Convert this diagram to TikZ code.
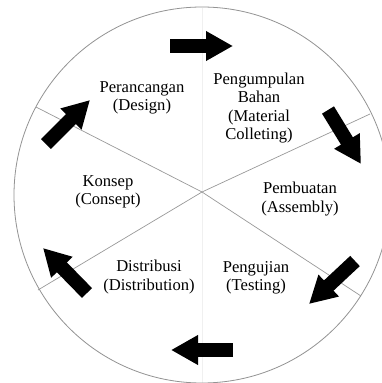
\documentclass[tikz,border=0pt]{standalone}
\usepackage{fontspec}
\setmainfont{Liberation Serif}
\usetikzlibrary{arrows.meta}
\begin{document}
\begin{tikzpicture}[x=1pt,y=-1pt,
  spoke/.style={draw=gray!80, line width=0.7pt},
  rim/.style={draw=gray!85, line width=0.8pt},
  faint/.style={draw=gray!12, line width=0.8pt},
  blockarrow/.style={draw=black, line width=14pt, -{Triangle[width=28pt,length=27pt]}},
  lbl/.style={align=center, font=\fontsize{16.6}{18.5}\selectfont, inner sep=0pt}]
\useasboundingbox (0,0) rectangle (382,383);
\clip (0,0) rectangle (382,383);
\fill[white] (0,0) rectangle (382,383);
% faint vertical line
\coordinate (vt) at (202,8);
\coordinate (vb) at (202,383);
\draw[faint] (vt) -- (vb);
% rim
\coordinate (O) at (202,195);
\draw[rim] (O) circle[radius=188];
% spokes
\coordinate (c) at (202,192);
\coordinate (pul) at (36,107);
\coordinate (pur) at (370,114);
\coordinate (plr) at (361,296);
\coordinate (pll) at (38,290);
\draw[spoke] (pul) -- (c) -- (plr);
\draw[spoke] (pur) -- (c) -- (pll);
% block arrows
\coordinate (a1s) at (170,46);  \coordinate (a1e) at (233,46);
\coordinate (a2s) at (328,110); \coordinate (a2e) at (361,164);
\coordinate (a3s) at (355,261); \coordinate (a3e) at (309,304);
\coordinate (a4s) at (233,350); \coordinate (a4e) at (171,350);
\coordinate (a5s) at (87,293);  \coordinate (a5e) at (43,248);
\coordinate (a6s) at (46,144);  \coordinate (a6e) at (90,100);
\draw[blockarrow] (a1s) -- (a1e);
\draw[blockarrow] (a2s) -- (a2e);
\draw[blockarrow] (a3s) -- (a3e);
\draw[blockarrow] (a4s) -- (a4e);
\draw[blockarrow] (a5s) -- (a5e);
\draw[blockarrow] (a6s) -- (a6e);
% labels
\node[lbl] (design) at (142,98) {Perancangan\\(Design)};
\node[lbl] (material) at (259,108) {Pengumpulan\\Bahan\\(Material\\Colleting)};
\node[lbl] (konsep) at (108,192) {Konsep\\(Consept)};
\node[lbl] (assembly) at (300,199) {Pembuatan\\(Assembly)};
\node[lbl] (testing) at (256,278) {Pengujian\\(Testing)};
\node[lbl] (distrib) at (149,277) {Distribusi\\(Distribution)};
\end{tikzpicture}
\end{document}
